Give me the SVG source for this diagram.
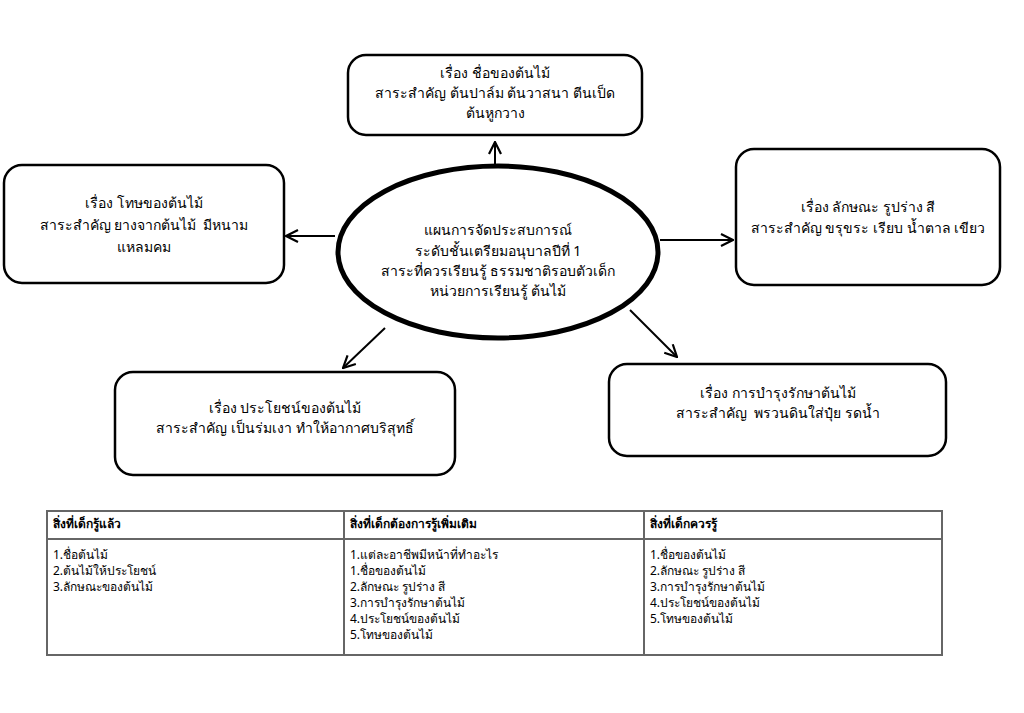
<svg xmlns="http://www.w3.org/2000/svg" width="1024" height="713" viewBox="0 0 1024 713">
<defs>
<marker id="ah" viewBox="0 0 14 14" refX="13" refY="7" markerWidth="14" markerHeight="14" markerUnits="userSpaceOnUse" orient="auto">
<path d="M1,1 L13,7 L1,13" fill="none" stroke="#000" stroke-width="2.2"/>
</marker>
</defs>
<style>
.box{fill:#fff;stroke:#000;stroke-width:2.5}
.t{font-family:"Noto Sans","DejaVu Sans",sans-serif;font-size:14px;fill:#000;text-anchor:middle;white-space:pre}
.tb{font-family:"Noto Sans","DejaVu Sans",sans-serif;font-size:12px;fill:#000}
.hd{font-weight:bold}
.c{stroke:#000;stroke-width:2;fill:none;marker-end:url(#ah)}
.grid{stroke:#666;stroke-width:2;fill:none}
</style>
<rect width="1024" height="713" fill="#fff"/>
<g id="connectors">
<line class="c" x1="495" y1="166" x2="495" y2="142"/>
<line class="c" x1="335" y1="236" x2="286" y2="236"/>
<line class="c" x1="660" y1="240" x2="733" y2="240"/>
<line class="c" x1="385" y1="328" x2="343" y2="368"/>
<line class="c" x1="630" y1="310" x2="677" y2="357"/>
</g>
<g id="center">
<ellipse cx="498" cy="252" rx="160" ry="86" fill="#fff" stroke="#000" stroke-width="5"/>
<text class="t" x="498" y="235">แผนการจัดประสบการณ์</text>
<text class="t" x="498" y="256">ระดับชั้นเตรียมอนุบาลปีที่ 1</text>
<text class="t" x="498" y="276">สาระที่ควรเรียนรู้ ธรรมชาติรอบตัวเด็ก</text>
<text class="t" x="498" y="296">หน่วยการเรียนรู้ ต้นไม้</text>
</g>
<g id="top">
<rect class="box" x="348" y="55" width="294" height="80" rx="18"/>
<text class="t" x="495" y="78">เรื่อง ชื่อของต้นไม้</text>
<text class="t" x="495" y="98">สาระสำคัญ ต้นปาล์ม ต้นวาสนา ตีนเป็ด</text>
<text class="t" x="495" y="118">ต้นหูกวาง</text>
</g>
<g id="left">
<rect class="box" x="4" y="165" width="280" height="118" rx="18"/>
<text class="t" x="144" y="208">เรื่อง โทษของต้นไม้</text>
<text class="t" x="144" y="230" xml:space="preserve">สาระสำคัญ ยางจากต้นไม้  มีหนาม</text>
<text class="t" x="144" y="252">แหลมคม</text>
</g>
<g id="right">
<rect class="box" x="736" y="149" width="264" height="136" rx="18"/>
<text class="t" x="868" y="212">เรื่อง ลักษณะ รูปร่าง สี</text>
<text class="t" x="868" y="233">สาระสำคัญ ขรุขระ เรียบ น้ำตาล เขียว</text>
</g>
<g id="bottomleft">
<rect class="box" x="115" y="372" width="340" height="103" rx="18"/>
<text class="t" x="285" y="413">เรื่อง ประโยชน์ของต้นไม้</text>
<text class="t" x="285" y="433">สาระสำคัญ เป็นร่มเงา ทำให้อากาศบริสุทธิ์</text>
</g>
<g id="bottomright">
<rect class="box" x="609" y="364" width="337" height="92" rx="18"/>
<text class="t" x="778" y="398">เรื่อง การบำรุงรักษาต้นไม้</text>
<text class="t" x="778" y="418" xml:space="preserve">สาระสำคัญ  พรวนดินใส่ปุ๋ย รดน้ำ</text>
</g>
<g id="table">
<rect class="grid" x="47" y="511" width="895" height="144"/>
<line class="grid" x1="47" y1="539" x2="942" y2="539"/>
<line class="grid" x1="344" y1="511" x2="344" y2="655"/>
<line class="grid" x1="644" y1="511" x2="644" y2="655"/>
<text class="tb hd" x="53" y="528">สิ่งที่เด็กรู้แล้ว</text>
<text class="tb hd" x="350" y="528">สิ่งที่เด็กต้องการรู้เพิ่มเติม</text>
<text class="tb hd" x="650" y="528">สิ่งที่เด็กควรรู้</text>
<text class="tb" x="53" y="559">1.ชื่อต้นไม้</text>
<text class="tb" x="53" y="575">2.ต้นไม้ให้ประโยชน์</text>
<text class="tb" x="53" y="591">3.ลักษณะของต้นไม้</text>
<text class="tb" x="350" y="559">1.แต่ละอาชีพมีหน้าที่ทำอะไร</text>
<text class="tb" x="350" y="575">1.ชื่อของต้นไม้</text>
<text class="tb" x="350" y="591">2.ลักษณะ รูปร่าง สี</text>
<text class="tb" x="350" y="607">3.การบำรุงรักษาต้นไม้</text>
<text class="tb" x="350" y="623">4.ประโยชน์ของต้นไม้</text>
<text class="tb" x="350" y="639">5.โทษของต้นไม้</text>
<text class="tb" x="650" y="559">1.ชื่อของต้นไม้</text>
<text class="tb" x="650" y="575">2.ลักษณะ รูปร่าง สี</text>
<text class="tb" x="650" y="591">3.การบำรุงรักษาต้นไม้</text>
<text class="tb" x="650" y="607">4.ประโยชน์ของต้นไม้</text>
<text class="tb" x="650" y="623">5.โทษของต้นไม้</text>
</g>
</svg>
